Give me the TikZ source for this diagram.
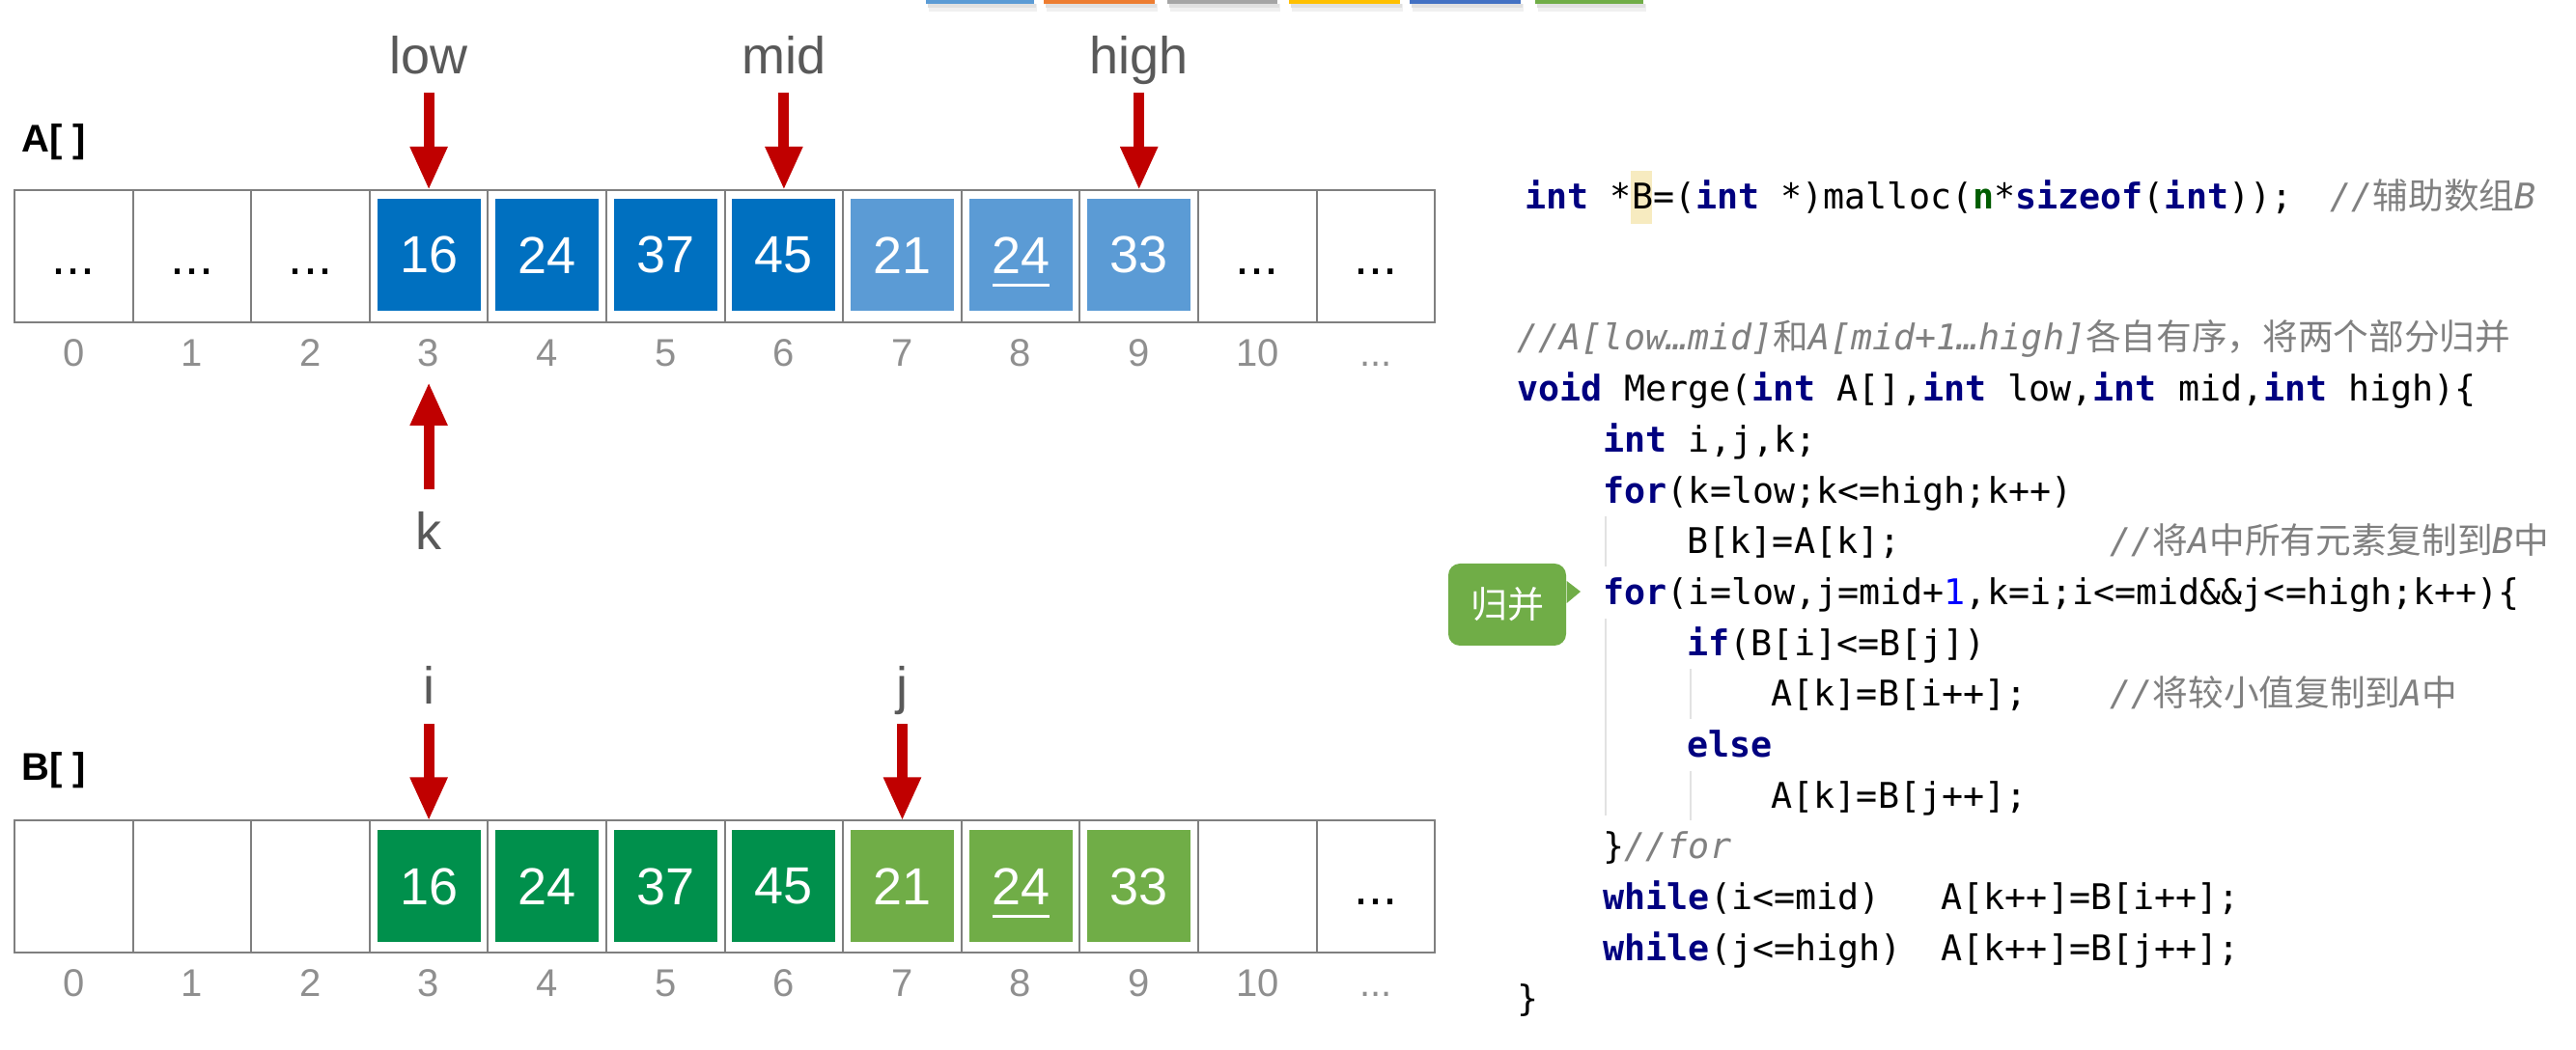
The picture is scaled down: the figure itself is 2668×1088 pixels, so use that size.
\documentclass[tikz,border=0pt]{standalone}
\usepackage{fontspec}
\setmainfont{Liberation Sans}
\newfontfamily\codefont{DejaVu Sans Mono}
\newfontfamily\cjk{Noto Sans CJK SC}
\usetikzlibrary{arrows.meta}
\definecolor{dblue}{HTML}{0070C0}
\definecolor{lblue}{HTML}{5B9BD5}
\definecolor{dgreen}{HTML}{00904C}
\definecolor{lgreen}{HTML}{70AD47}
\definecolor{arrowred}{HTML}{C00000}
\definecolor{cellgray}{HTML}{7F7F7F}
\definecolor{idxgray}{HTML}{8F8F8F}
\definecolor{lblgray}{HTML}{595959}
\definecolor{kwblue}{HTML}{000080}
\definecolor{cmgray}{HTML}{808080}
\definecolor{ngreen}{HTML}{005C00}
\definecolor{numblue}{HTML}{0000FF}
\definecolor{hlyellow}{HTML}{F7EBC0}
\definecolor{guidegray}{HTML}{E2E2E2}
\definecolor{barA}{HTML}{5B9BD5}
\definecolor{barB}{HTML}{ED7D31}
\definecolor{barC}{HTML}{A5A5A5}
\definecolor{barD}{HTML}{FFC000}
\definecolor{barE}{HTML}{4472C4}
\definecolor{barF}{HTML}{70AD47}
\newcommand{\ckw}[1]{{\bfseries\color{kwblue}#1}}
\newcommand{\ccm}[1]{{\itshape\color{cmgray}#1}}
\newcommand{\czh}[1]{{\cjk\upshape #1}}
\newcommand{\tdots}{...}
\begin{document}
\begin{tikzpicture}[x=0.3pt,y=-0.3pt,
  cell/.style={draw=cellgray, line width=0.6pt, minimum width=36.78pt, minimum height=41.1pt, inner sep=0pt, outer sep=0pt, font=\fontsize{16.2}{18}\selectfont},
  valbox/.style={minimum width=32.1pt, minimum height=34.8pt, inner sep=0pt, text=white, font=\fontsize{16.2}{18}\selectfont},
  idx/.style={anchor=base, inner sep=0pt, text=idxgray, font=\fontsize{12}{14}\selectfont},
  ptrlabel/.style={anchor=base, inner sep=0pt, text=lblgray, font=\fontsize{16.2}{18}\selectfont},
  arrlabel/.style={anchor=base west, inner sep=0pt, font=\bfseries\fontsize{12}{14}\selectfont},
  ptr/.style={draw=arrowred, line width=3.3pt, -{Triangle[length=13.5pt,width=10.8pt]}},
  code/.style={anchor=base west, inner sep=0pt, font=\codefont\fontsize{11}{13}\selectfont},
  guide/.style={draw=guidegray, line width=0.45pt}
]
\useasboundingbox (0,0) rectangle (2668,1088);

% top colour bars
\foreach \xa/\xb/\c in {959/1071/barA,1081/1196/barB,1209/1323/barC,1335/1450/barD,1460/1575/barE,1590/1702/barF}{
  \fill[black!6] (\xa+3,4) rectangle (\xb+3,12);
  \fill[black!12] (\xa+2,4) rectangle (\xb+2,8);
  \fill[\c] (\xa,0) rectangle (\xb,4);
}

% ---------- array A ----------
\node[arrlabel] (Alabel) at (22,158) {A[ ]};
\foreach \i in {0,1,2,3,4,5,6,7,8,9,10,11}{
  \node[cell] (a\i) at (76.3+122.6*\i,265.5) {};
}
\foreach \i in {0,1,2,10,11}{
  \node[inner sep=0pt, font=\fontsize{16.2}{18}\selectfont] (ad\i) at (a\i.center) {\vphantom{0}\tdots};
}
\foreach \i/\v/\c in {3/16/dblue,4/24/dblue,5/37/dblue,6/45/dblue,7/21/lblue,8/24/lblue,9/33/lblue}{
  \node[valbox, fill=\c] (av\i) at ([yshift=0.4pt]a\i.center) {\v};
}
\draw[white, line width=0.9pt] ([xshift=-8.7pt,yshift=-9.3pt]av8.center) -- ([xshift=9pt,yshift=-9.3pt]av8.center);
\foreach \i/\t in {0/0,1/1,2/2,3/3,4/4,5/5,6/6,7/7,8/8,9/9,10/10,11/\tdots}{
  \node[idx] (ai\i) at (76.3+122.6*\i,380) {\t};
}
\node[ptrlabel] (low) at (a3.center |- 0,77) {low};
\node[ptrlabel] (mid) at (a6.center |- 0,77) {mid};
\node[ptrlabel] (high) at (a9.center |- 0,77) {high};
\draw[ptr] ([yshift=30.3pt]a3.north) -- (a3.north);
\draw[ptr] ([yshift=30.3pt]a6.north) -- (a6.north);
\draw[ptr] ([yshift=30.3pt]a9.north) -- (a9.north);
\node[ptrlabel] (k) at (a3.center |- 0,570) {k};
\draw[ptr] ([yshift=-51.9pt]a3.south) -- ([yshift=-18.6pt]a3.south);

% ---------- array B ----------
\node[arrlabel] (Blabel) at (22,809) {B[ ]};
\foreach \i in {0,1,2,3,4,5,6,7,8,9,10,11}{
  \node[cell] (b\i) at (76.3+122.6*\i,919) {};
}
\node[inner sep=0pt, font=\fontsize{16.2}{18}\selectfont] (bd11) at (b11.center) {\vphantom{0}\tdots};
\foreach \i/\v/\c in {3/16/dgreen,4/24/dgreen,5/37/dgreen,6/45/dgreen,7/21/lgreen,8/24/lgreen,9/33/lgreen}{
  \node[valbox, fill=\c] (bv\i) at ([yshift=0.15pt]b\i.center) {\v};
}
\draw[white, line width=0.9pt] ([xshift=-8.7pt,yshift=-9.3pt]bv8.center) -- ([xshift=9pt,yshift=-9.3pt]bv8.center);
\foreach \i/\t in {0/0,1/1,2/2,3/3,4/4,5/5,6/6,7/7,8/8,9/9,10/10,11/\tdots}{
  \node[idx] (bi\i) at (76.3+122.6*\i,1033) {\t};
}
\node[ptrlabel] (ilbl) at (b3.center |- 0,730) {i};
\node[ptrlabel] (jlbl) at (b7.center |- 0,730) {j};
\draw[ptr] ([yshift=30pt]b3.north) -- (b3.north);
\draw[ptr] ([yshift=30pt]b7.north) -- (b7.north);

% ---------- code ----------
\fill[hlyellow] (1689,177) rectangle (1711,232);
\node[code] (c1) at (1579,217) {\ckw{int} *B=(\ckw{int} *)malloc({\bfseries\color{ngreen}n}*\ckw{sizeof}(\ckw{int}));};
\node[code] (c1c) at (2413,217) {\ccm{//\czh{辅助数组}B}};
\node[code] (c2) at (1571,363) {\ccm{//A[low…mid]\czh{和}A[mid+1…high]\czh{各自有序，将两个部分归并}}};
\node[code] (c3) at (1571,415.7) {\ckw{void} Merge(\ckw{int} A[],\ckw{int} low,\ckw{int} mid,\ckw{int} high)\{};
\node[code] (c4) at (1660,468.4) {\ckw{int} i,j,k;};
\node[code] (c5) at (1660,521.1) {\ckw{for}(k=low;k<=high;k++)};
\node[code] (c6) at (1747,573.8) {B[k]=A[k];};
\node[code] (c6c) at (2185,573.8) {\ccm{//\czh{将}A\czh{中所有元素复制到}B\czh{中}}};
\node[code] (c7) at (1660,626.5) {\ckw{for}(i=low,j=mid+{\color{numblue}1},k=i;i<=mid\&\&j<=high;k++)\{};
\node[code] (c8) at (1747,679.2) {\ckw{if}(B[i]<=B[j])};
\node[code] (c9) at (1834,731.9) {A[k]=B[i++];};
\node[code] (c9c) at (2185,731.9) {\ccm{//\czh{将较小值复制到}A\czh{中}}};
\node[code] (c10) at (1747,784.6) {\ckw{else}};
\node[code] (c11) at (1834,837.3) {A[k]=B[j++];};
\node[code] (c12) at (1660,890) {\}\ccm{//for}};
\node[code] (c13) at (1660,942.7) {\ckw{while}(i<=mid)};
\node[code] (c13b) at (2010,942.7) {A[k++]=B[i++];};
\node[code] (c14) at (1660,995.4) {\ckw{while}(j<=high)};
\node[code] (c14b) at (2010,995.4) {A[k++]=B[j++];};
\node[code] (c15) at (1571,1048) {\}};

% indent guides
\draw[guide] (1663,535) -- (1663,587);
\draw[guide] (1663,641) -- (1663,845);
\draw[guide] (1751,693) -- (1751,745);
\draw[guide] (1751,799) -- (1751,850);

% callout
\node[fill=lgreen, rounded corners=3.6pt, minimum width=36.6pt, minimum height=25.5pt, inner sep=0pt, text=white, font=\cjk\fontsize{11.4}{13}\selectfont] (merge) at (1561,626.5) {归并};
\coordinate (mergetip) at (1637,613);
\fill[lgreen] ([yshift=7.35pt]merge.east) -- (mergetip) -- ([yshift=0.45pt]merge.east) -- cycle;
\end{tikzpicture}
\end{document}
